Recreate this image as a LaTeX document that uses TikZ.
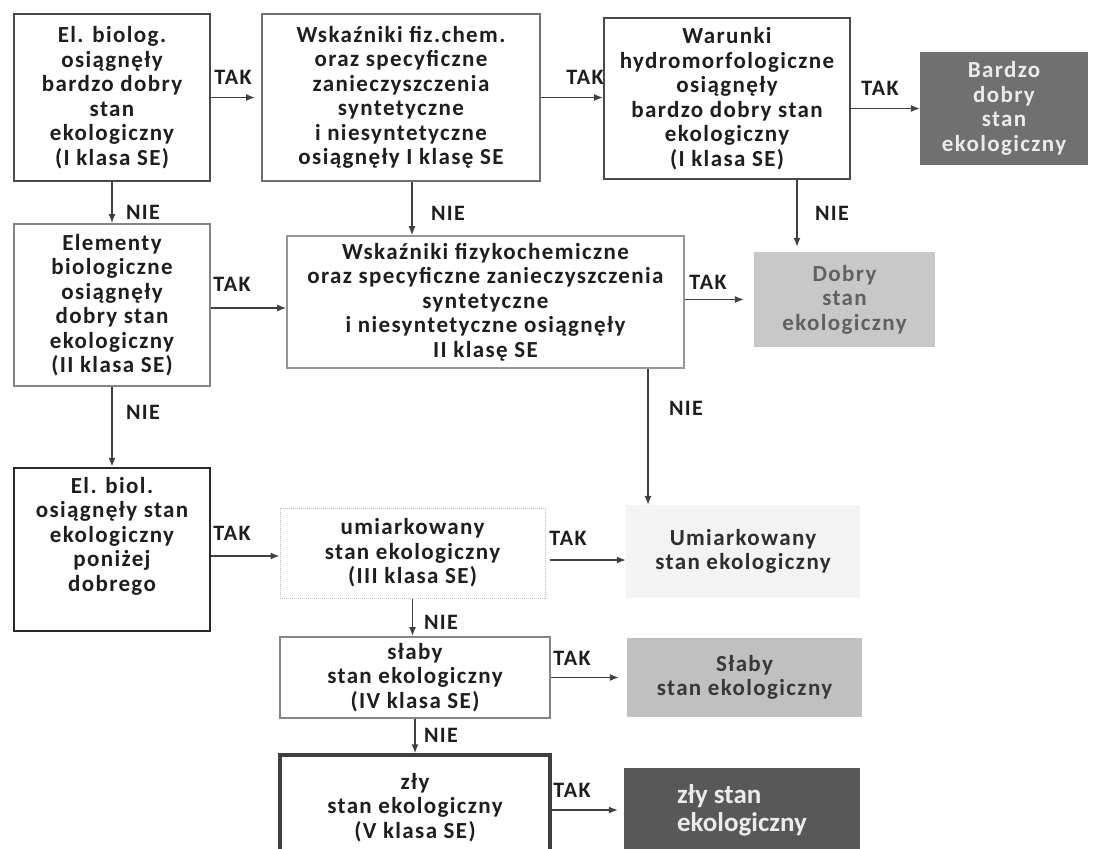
\documentclass[tikz,border=0pt]{standalone}
\usepackage{fontspec}
\setmainfont{Carlito}[LetterSpace=6]
\newfontfamily\plainfont{Carlito}
\usetikzlibrary{arrows.meta}
\definecolor{bordA}{HTML}{4A4A4A}
\definecolor{bordB}{HTML}{707070}
\definecolor{bordE}{HTML}{858585}
\definecolor{bordF}{HTML}{959595}
\definecolor{bordI}{HTML}{2A2A2A}
\definecolor{fillD}{HTML}{707070}
\definecolor{fillG}{HTML}{C8C8C8}
\definecolor{fillH}{HTML}{F3F3F3}
\definecolor{fillL}{HTML}{C0C0C0}
\definecolor{fillN}{HTML}{585858}
\definecolor{ink}{HTML}{1E1E1E}
\begin{document}
\begin{tikzpicture}[x=1pt,y=-1pt,
  txt/.style={font=\bfseries\fontsize{23}{24.5}\selectfont, align=center, text=ink, inner sep=0pt},
  box/.style={txt, draw=#1, line width=2pt},
  res/.style={txt, fill=#1},
  arr/.style={draw=black!75, line width=1.3pt, -{Latex[length=9pt,width=7pt]}},
  lab/.style={font=\bfseries\fontsize{22}{25}\selectfont, text=ink, inner sep=0pt}
]
\useasboundingbox (0,0) rectangle (1093,849);
\fill[white] (0,0) rectangle (1093,849);

% boxes
\node[box=bordA, minimum width=196pt, minimum height=167pt] (A) at (112,97.5)
  {El. biolog.\\osiągnęły\\bardzo dobry\\stan\\ekologiczny\\(I klasa SE)};
\node[box=bordB, minimum width=278pt, minimum height=167pt] (B) at (401,97.5)
  {Wskaźniki fiz.chem.\\oraz specyficzne\\zanieczyszczenia\\syntetyczne\\i niesyntetyczne\\osiągnęły I klasę SE};
\node[box=bordA, minimum width=246pt, minimum height=161pt] (C) at (727,98.5)
  {Warunki\\hydromorfologiczne\\osiągnęły\\bardzo dobry stan\\ekologiczny\\(I klasa SE)};
\node[res=fillD, text=white!92!black, minimum width=168pt, minimum height=113pt] (D) at (1004,108.5)
  {Bardzo\\dobry\\stan\\ekologiczny};

\node[box=bordE, minimum width=196pt, minimum height=162pt] (E) at (112,305)
  {Elementy\\biologiczne\\osiągnęły\\dobry stan\\ekologiczny\\(II klasa SE)};
\node[box=bordF, line width=1.6pt, minimum width=397pt, minimum height=132pt] (F) at (485.5,302)
  {Wskaźniki fizykochemiczne\\oraz specyficzne zanieczyszczenia\\syntetyczne\\i niesyntetyczne osiągnęły\\II klasę SE};
\node[res=fillG, text=black!62, minimum width=181pt, minimum height=95pt] (G) at (844.5,299.5)
  {Dobry\\stan\\ekologiczny};

\node[box=bordI, line width=2.5pt, minimum width=196pt, minimum height=163pt] (I) at (112,549.5)
  {El. biol.\\osiągnęły stan\\ekologiczny\\poniżej\\dobrego\\[6pt]};
\node[txt, draw=black!25, densely dotted, line width=1pt, minimum width=265pt, minimum height=90pt] (J) at (412.5,553)
  {umiarkowany\\stan ekologiczny\\(III klasa SE)};
\node[res=fillH, text=black!82, minimum width=234pt, minimum height=93pt] (H) at (743,551.5)
  {Umiarkowany\\stan ekologiczny};

\node[box=bordE, minimum width=270pt, minimum height=81pt] (K) at (415,677.5)
  {słaby\\stan ekologiczny\\(IV klasa SE)};
\node[res=fillL, text=black!78, minimum width=235pt, minimum height=79pt] (L) at (744.5,677.5)
  {Słaby\\stan ekologiczny};

\node[box=bordI!90, line width=3.5pt, minimum width=270pt, minimum height=105pt] (M) at (415,807.5)
  {zły\\stan ekologiczny\\(V klasa SE)};
\node[res=fillN, text=white!92!black, font=\plainfont\bfseries\fontsize{27}{28}\selectfont, align=left, minimum width=236pt, minimum height=84pt] (N) at (742,810)
  {zły stan\\ekologiczny};

% connectors
\draw[arr] (A.east) -- ([xshift=-6pt]B.west);
\draw[arr] (B.east) -- (B.east -| C.west);
\draw[arr] (D.west -| C.east) -- (D.west);
\draw[arr] (A.south) -- (E.north);
\draw[arr] ([xshift=11pt]B.south) -- ([xshift=11pt]B.south |- F.north);
\draw[arr, shorten >=5pt] ([xshift=70pt]C.south) -- ([xshift=70pt]C.south |- G.north);
\draw[arr] ([yshift=-3pt]E.east) -- ([yshift=-3pt]E.east -| F.west);
\draw[arr, shorten >=10pt] (G.west -| F.east) -- (G.west);
\draw[arr] ([xshift=162.5pt]F.south) -- ([xshift=162.5pt]F.south |- H.north);
\draw[arr] (E.south) -- (I.north);
\draw[arr] ([yshift=-3pt]J.west -| I.east) -- ([yshift=-3pt]J.west);
\draw[arr, shorten <=4pt] ([yshift=-7pt]J.east) -- ([yshift=-7pt]J.east -| H.west);
\draw[arr] (J.south) -- (J.south |- K.north);
\draw[arr, shorten >=8pt] (K.east) -- (L.west);
\draw[arr] (K.south) -- (M.north);
\draw[arr, shorten >=6pt] (N.west -| M.east) -- (N.west);

% labels
\node[lab] (tAB) at (233,77) {TAK};
\node[lab] (tBC) at (585,77) {TAK};
\node[lab] (tCD) at (880,88) {TAK};
\node[lab] (nAE) at (143,212) {NIE};
\node[lab] (nBF) at (448,213) {NIE};
\node[lab] (nCG) at (832,213) {NIE};
\node[lab] (tEF) at (232,284) {TAK};
\node[lab] (tFG) at (708,282) {TAK};
\node[lab] (nFH) at (686,408) {NIE};
\node[lab] (nEI) at (143,412) {NIE};
\node[lab] (tIJ) at (232,533) {TAK};
\node[lab] (tJH) at (568,538) {TAK};
\node[lab] (nJK) at (441,622) {NIE};
\node[lab] (tKL) at (572,658) {TAK};
\node[lab] (nKM) at (441,735) {NIE};
\node[lab] (tMN) at (572,790) {TAK};
\end{tikzpicture}
\end{document}
